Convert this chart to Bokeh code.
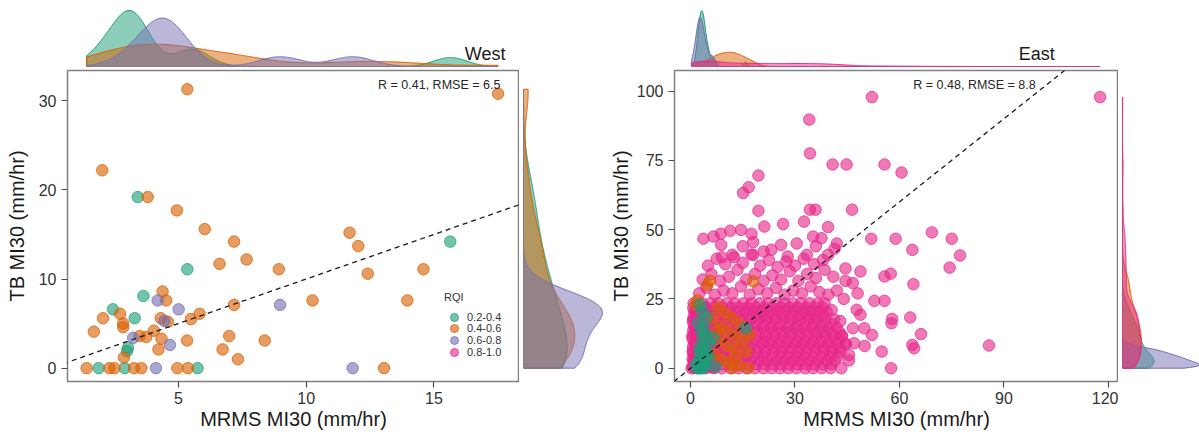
import numpy as np
from bokeh.plotting import figure
from bokeh.layouts import row, column
from bokeh.models import Range1d, FixedTicker, Label, Slope, Legend, LegendItem
from bokeh.embed import file_html
from bokeh.resources import INLINE

FONT = "Liberation Sans"
rqi_classes = ["0.2-0.4", "0.4-0.6", "0.6-0.8", "0.8-1.0"]
rqi_colors = ["#1B9E77", "#D95F02", "#7570B3", "#E7298A"]
COLOR = dict(zip(rqi_classes, rqi_colors))

# ---------------- West ----------------
west_green_x = [3.41, 15.64, 5.35, 3.63, 2.44, 3.29, 3.03, 2.99, 1.88, 2.90, 5.75]
west_green_y = [19.2, 14.2, 11.1, 8.1, 6.6, 5.6, 2.3, 1.9, 0.0, 0.0, 0.0]
west_orange_x = [5.35, 17.51, 2.02, 3.80, 4.94, 6.03, 11.70, 12.04, 7.18, 6.61, 7.67, 8.93,
                 14.59, 12.41, 4.38, 4.52, 10.25, 13.96, 7.18, 2.72, 2.05, 2.84, 2.84, 4.31,
                 4.59, 5.49, 5.83, 1.69, 3.74, 4.04, 3.48, 4.34, 5.34, 6.99, 8.38, 4.22,
                 6.73, 7.33, 2.87, 1.41, 2.30, 2.50, 3.26, 3.55, 4.96, 5.37, 13.05]
west_orange_y = [31.3, 30.8, 22.2, 19.2, 17.7, 15.6, 15.2, 13.7, 14.2, 11.7, 12.2, 11.1,
                 11.1, 10.6, 8.6, 7.6, 7.6, 7.6, 7.1, 6.1, 5.6, 5.0, 4.6, 5.6,
                 5.2, 5.5, 6.1, 4.1, 3.5, 4.2, 3.6, 3.3, 3.1, 3.6, 3.1, 2.1,
                 2.1, 1.0, 1.2, 0.0, 0.0, 0.0, 0.0, 0.0, 0.0, 0.0, 0.0]
west_purple_x = [4.19, 8.98, 5.01, 3.23, 4.67, 4.12, 11.82, 4.45]
west_purple_y = [7.6, 7.1, 6.6, 3.4, 2.6, 0.0, 0.0, 5.3]
west_pink_x = []
west_pink_y = []

# ---------------- East ----------------
east_green_x = [2.0, 2.6, 3.1, 3.7, 4.2, 2.3, 2.9, 3.4, 4.0, 4.8, 2.5, 3.2, 3.9, 5.5, 2.8,
                3.5, 4.4, 6.5, 3.0, 3.8, 2.2, 4.6, 3.3, 2.7, 15.8, 1.6, 3.6, 5.2, 7.2]
east_green_y = [0.0, 0.0, 0.0, 0.0, 1.0, 2.5, 3.0, 2.0, 4.0, 5.0, 6.0, 5.5, 8.0, 9.0, 8.0,
                11.0, 12.0, 11.0, 13.5, 15.0, 16.5, 18.5, 20.5, 23.0, 14.4, 1.2, 1.8, 3.8, 0.5]
east_orange_x = [5.6, 4.8, 18.0, 1.5, 8.0, 10.0, 12.0, 14.0, 9.0, 11.0, 13.0, 15.0, 8.5, 10.5,
                 12.5, 16.0, 7.0, 9.0, 11.0, 14.0, 16.5, 13.0, 17.0, 6.5, 2.0, 7.5, 12.0]
east_orange_y = [31.6, 30.0, 31.3, 22.9, 22.0, 20.0, 18.0, 16.0, 15.0, 13.0, 11.5, 10.0, 10.0, 8.0,
                 7.0, 6.0, 5.0, 3.0, 2.0, 1.0, 0.0, 4.0, 12.0, 18.0, 24.5, 13.5, 0.0]
east_purple_x = [1.0, 1.8, 2.4, 2.8, 3.2, 3.7, 4.3, 5.1, 6.4, 2.6, 3.5, 2.0]
east_purple_y = [0.0, 1.5, 0.5, 3.0, 4.0, 2.0, 6.0, 7.0, 0.2, 5.0, 3.5, 1.0]

# dense band of 0.8-1.0 observations: one list of MRMS values per TB level
east_pink_band_y = [0.0, 1.4, 2.8, 4.3, 5.9, 7.3, 8.7, 10.1, 11.6, 13.0, 14.5, 16.0,
                    17.6, 19.0, 20.4, 21.9, 23.4]
east_pink_band_x = [
    [0.3, 2.1, 4.4, 6.8, 9.0, 11.5, 13.8, 16.2, 18.5, 21.0, 23.3, 25.7, 28.0, 30.4, 32.9, 35.1, 37.6, 40.2],
    [2.2, 4.6, 7.0, 9.3, 11.7, 14.1, 16.5, 18.9, 21.3, 23.6, 26.0, 28.4, 30.8, 33.2, 35.6, 38.0, 40.5],
    [1.0, 3.2, 5.6, 8.1, 10.3, 12.7, 15.0, 17.4, 19.8, 22.1, 24.6, 26.9, 29.3, 31.6, 34.0, 36.5, 39.0, 41.4],
    [1.9, 4.3, 6.7, 9.1, 11.4, 13.8, 16.2, 18.6, 21.0, 23.4, 25.8, 28.1, 30.5, 32.9, 35.3, 37.7, 40.1, 42.3],
    [0.6, 2.7, 5.0, 7.4, 9.8, 12.1, 14.4, 16.9, 19.2, 21.5, 24.0, 26.3, 28.7, 31.1, 33.4, 35.8, 38.3, 40.7, 43.0],
    [2.4, 4.8, 7.1, 9.5, 11.9, 14.3, 16.7, 19.1, 21.4, 23.8, 26.2, 28.6, 31.0, 33.3, 35.7, 38.1, 40.6, 42.9],
    [1.2, 3.6, 6.0, 8.3, 10.7, 13.0, 15.5, 17.8, 20.3, 22.6, 25.0, 27.4, 29.8, 32.1, 34.5, 36.9, 39.4, 41.8, 44.6],
    [2.0, 4.4, 6.8, 9.2, 11.6, 14.0, 16.4, 18.7, 21.1, 23.5, 25.9, 28.3, 30.7, 33.0, 35.4, 37.8, 40.2, 42.6],
    [0.5, 2.9, 5.3, 7.7, 10.0, 12.4, 14.8, 17.2, 19.6, 21.9, 24.3, 26.7, 29.1, 31.5, 33.8, 36.2, 38.6, 41.0, 43.5],
    [2.3, 4.7, 7.1, 9.4, 11.8, 14.2, 16.6, 19.0, 21.4, 23.7, 26.1, 28.5, 30.9, 33.3, 35.6, 38.0, 40.4, 42.8],
    [1.4, 3.8, 6.2, 8.6, 11.0, 13.3, 15.7, 18.1, 20.5, 22.9, 25.2, 27.6, 30.0, 32.4, 34.8, 37.1, 39.5, 42.0],
    [2.1, 4.5, 6.9, 9.3, 11.7, 14.1, 16.5, 18.8, 21.2, 23.6, 26.0, 28.4, 30.8, 33.1, 35.5, 37.9, 40.3],
    [0.8, 3.1, 5.5, 7.9, 10.3, 12.6, 15.0, 17.4, 19.8, 22.2, 24.5, 26.9, 29.3, 31.7, 34.1, 36.4, 38.8, 41.3],
    [2.2, 4.6, 7.0, 9.4, 11.8, 14.2, 16.5, 18.9, 21.3, 23.7, 26.1, 28.5, 30.8, 33.2, 35.6, 38.0],
    [1.1, 3.5, 5.9, 8.2, 10.6, 13.0, 15.4, 17.7, 20.1, 22.5, 24.9, 27.2, 29.6, 32.0, 34.4, 36.8, 39.1],
    [2.0, 4.4, 6.8, 9.2, 11.6, 14.0, 16.4, 18.8, 21.2, 23.5, 25.9, 28.3, 30.7, 33.1, 35.5, 37.9],
    [0.9, 3.3, 5.7, 8.0, 10.4, 12.8, 15.2, 17.5, 19.9, 22.3, 24.7, 27.0, 29.4, 31.8, 34.2, 36.6],
]
# light-rain core of 0.8-1.0 observations
east_pink_core_y = [0.6, 1.9, 3.4, 4.7, 6.3, 7.6, 9.2, 10.5, 12.1, 13.7, 15.2, 16.8, 18.3, 20.0, 21.7]
east_pink_core_x = [
    [0.7, 1.6, 2.3, 3.2, 4.0, 4.9, 5.7, 6.6],
    [0.9, 1.8, 2.6, 3.5, 4.3, 5.1, 6.0, 6.9],
    [0.6, 1.4, 2.2, 3.0, 3.9, 4.7, 5.5, 6.4],
    [1.0, 1.9, 2.7, 3.6, 4.4, 5.3, 6.1, 7.0],
    [0.8, 1.5, 2.4, 3.3, 4.1, 4.8, 5.8, 6.7],
    [0.7, 1.7, 2.5, 3.4, 4.2, 5.0, 5.9, 6.8],
    [1.1, 1.8, 2.8, 3.5, 4.5, 5.2, 6.2, 7.1],
    [0.6, 1.5, 2.3, 3.1, 4.0, 4.8, 5.6, 6.5],
    [0.9, 1.7, 2.6, 3.4, 4.3, 5.1, 6.0],
    [0.8, 1.6, 2.5, 3.3, 4.2, 5.0, 5.9],
    [1.0, 1.9, 2.7, 3.6, 4.4, 5.4, 6.3],
    [0.7, 1.6, 2.4, 3.2, 4.1, 4.9],
    [0.9, 1.8, 2.6, 3.5, 4.3, 5.2],
    [1.2, 2.0, 2.9, 3.7, 4.6],
    [0.8, 1.7, 2.5, 3.4, 4.2],
]
# individual 0.8-1.0 observations outside the dense band
east_pink_other_x = [2.5, 4.5, 7.0, 9.5, 12.0, 14.5, 17.0, 19.5, 22.0, 24.5, 27.0, 29.5, 32.0, 34.5, 37.0, 39.5, 42.0,
                     3.5, 6.0, 8.5, 11.0, 13.5, 16.0, 18.5, 21.0, 23.5, 26.0, 28.5, 31.0, 33.5, 36.0, 38.5, 41.0, 44.5,
                     5.0, 7.5, 10.0, 12.5, 15.0, 17.5, 20.0, 22.5, 25.0, 27.5, 30.0, 32.5, 35.5, 38.0, 41.4, 44.5,
                     9.0, 12.0, 18.0, 21.0, 23.2, 27.9, 33.4, 39.5, 8.8, 15.0, 18.0, 26.0, 30.5, 36.0,
                     3.7, 6.6, 8.7, 11.4, 14.5, 17.5, 21.2, 26.6, 32.6, 39.5, 35.2, 37.6,
                     19.5, 34.3, 35.9, 46.4, 15.1, 16.7, 19.5, 40.8, 44.8, 55.7, 60.6, 34.3, 34.1, 52.1, 117.6,
                     51.9, 58.9, 63.7, 69.3, 75.0, 77.4, 74.4, 48.8, 55.7, 57.5, 64.0, 46.6, 52.8, 55.7, 63.1,
                     66.2, 57.9, 57.7, 63.7, 64.2, 85.7, 57.6, 54.9, 52.1, 49.9, 46.6, 48.8, 47.7, 43.3, 45.5,
                     47.0, 50.0, 44.0, 48.0, 42.0, 45.5, 44.6, 43.5, 43.0, 40.5, 38.5]
east_pink_other_y = [27.0, 29.0, 26.5, 28.0, 27.0, 29.5, 26.5, 28.5, 27.0, 29.0, 26.5, 28.0, 27.0, 29.5, 27.5, 26.5, 28.0,
                     32.0, 34.0, 31.5, 33.0, 35.5, 32.0, 34.0, 31.5, 33.5, 32.0, 35.0, 31.5, 34.0, 32.5, 35.5, 33.0, 31.5,
                     37.0, 39.5, 37.5, 40.0, 38.0, 41.0, 37.0, 39.0, 36.5, 38.5, 37.0, 39.5, 37.5, 39.0, 43.1, 36.0,
                     40.0, 40.9, 40.9, 42.1, 42.7, 40.3, 40.9, 40.9, 44.5, 44.0, 45.5, 44.5, 45.0, 44.0,
                     46.7, 47.5, 48.5, 49.6, 49.9, 48.5, 51.1, 52.0, 52.9, 50.9, 47.5, 46.9,
                     56.8, 57.2, 57.2, 57.2, 63.2, 65.3, 69.5, 73.5, 73.5, 73.5, 70.6, 77.5, 89.7, 97.8, 97.8,
                     46.7, 46.7, 42.7, 49.0, 46.7, 40.7, 36.3, 34.9, 33.1, 34.1, 30.3, 30.7, 24.3, 24.3, 18.3,
                     12.3, 17.8, 16.2, 8.4, 7.2, 8.2, 0.0, 6.0, 12.0, 14.4, 14.4, 19.3, 21.1, 0.0, 4.8,
                     9.0, 8.0, 25.0, 27.0, 45.0, 2.8, 8.7, 11.6, 17.0, 21.0, 23.4]

east_pink_x = [x for row_x in east_pink_band_x for x in row_x] \
    + [x for row_x in east_pink_core_x for x in row_x] + east_pink_other_x
east_pink_y = [y for y, row_x in zip(east_pink_band_y, east_pink_band_x) for _ in row_x] \
    + [y for y, row_x in zip(east_pink_core_y, east_pink_core_x) for _ in row_x] + east_pink_other_y

west_groups = {"0.2-0.4": (west_green_x, west_green_y), "0.4-0.6": (west_orange_x, west_orange_y),
               "0.6-0.8": (west_purple_x, west_purple_y), "0.8-1.0": (west_pink_x, west_pink_y)}
east_groups = {"0.2-0.4": (east_green_x, east_green_y), "0.4-0.6": (east_orange_x, east_orange_y),
               "0.6-0.8": (east_purple_x, east_purple_y), "0.8-1.0": (east_pink_x, east_pink_y)}

TOP_H = 68
MAIN_H = 366
B_TOP = 2
B_BOTTOM = 53


def bw_nrd0(v):
    v = np.asarray(v, float)
    sd = v.std(ddof=1)
    q75, q25 = np.percentile(v, [75, 25])
    lo = min(sd, (q75 - q25) / 1.34)
    if lo <= 0:
        lo = sd if sd > 0 else 1.0
    return 0.9 * lo * len(v) ** -0.2


def density(v, lo, hi, n=400):
    """Gaussian kernel density evaluated across the panel's full data range."""
    v = np.asarray(v, float)
    bw = bw_nrd0(v)
    grid = np.linspace(lo, hi, n)
    d = np.exp(-0.5 * ((grid[:, None] - v[None, :]) / bw) ** 2).sum(axis=1)
    d /= len(v) * bw * np.sqrt(2 * np.pi)
    return grid, d


def style_axes(p, xticks, yticks, ytitle_standoff):
    p.xaxis.ticker = FixedTicker(ticks=xticks)
    p.yaxis.ticker = FixedTicker(ticks=yticks)
    for ax in p.axis:
        ax.axis_line_color = None
        ax.major_tick_line_color = "#4d4d4d"
        ax.major_tick_line_width = 1.2
        ax.major_tick_out = 6
        ax.major_tick_in = 0
        ax.minor_tick_line_color = None
        ax.major_label_text_font = FONT
        ax.major_label_text_font_size = "16px"
        ax.major_label_text_color = "#333333"
        ax.axis_label_text_font = FONT
        ax.axis_label_text_font_size = "20px"
        ax.axis_label_text_font_style = "normal"
        ax.axis_label_text_color = "#1a1a1a"
    p.xaxis.major_label_standoff = 4
    p.xaxis.axis_label_standoff = 1
    p.yaxis.major_label_standoff = 5
    p.yaxis.axis_label_standoff = ytitle_standoff
    p.xaxis.axis_label = "MRMS MI30 (mm/hr)"
    p.yaxis.axis_label = "TB MI30 (mm/hr)"


def build_panel(groups, draw_order, x_rng, y_rng, xticks, yticks, border_left, frame_w,
                ytitle_standoff, marg_w, marg_fill, region, region_x, stat_text, stat_xy,
                with_legend):
    xr = Range1d(*x_rng)
    yr = Range1d(*y_rng)

    main = figure(width=border_left + frame_w, height=MAIN_H, x_range=xr, y_range=yr,
                  min_border_left=border_left, min_border_right=0,
                  min_border_top=B_TOP, min_border_bottom=B_BOTTOM,
                  toolbar_location=None, output_backend="svg",
                  outline_line_color="#808080", outline_line_width=1.5)
    main.grid.visible = False
    style_axes(main, xticks, yticks, ytitle_standoff)

    rends = {}
    for cls in draw_order:
        gx, gy = groups[cls]
        if len(gx) == 0:
            # class without observations: keeps a legend swatch only
            gx, gy = [np.nan], [np.nan]
        c = COLOR[cls]
        rends[cls] = main.scatter(x=gx, y=gy, size=11.5, fill_color=c, fill_alpha=0.62,
                                  line_color=c, line_alpha=0.75, line_width=1)
    main.add_layout(Slope(gradient=1, y_intercept=0, line_color="#1a1a1a",
                          line_dash="5 4", line_width=1.3))
    main.add_layout(Label(x=stat_xy[0], y=stat_xy[1], text=stat_text, text_align="right",
                          text_baseline="middle", text_font=FONT, text_font_size="12.5px",
                          text_color="#262626"))
    if with_legend:
        # one entry per legend box, stacked with a 11.7 px pitch
        item_centers = [64.3, 52.6, 40.9, 29.2]
        for i, cls in enumerate(rqi_classes):
            lg = Legend(items=[LegendItem(label=cls, renderers=[rends[cls]])],
                        location=(377, item_centers[i] - 10), orientation="vertical",
                        glyph_width=20, glyph_height=20, label_height=20,
                        label_standoff=3, padding=0, margin=0,
                        border_line_color=None, background_fill_alpha=0,
                        label_text_font=FONT, label_text_font_size="11px",
                        label_text_color="#333333")
            if i == 0:
                lg.title = "RQI"
                lg.title_standoff = 4
                lg.title_text_font = FONT
                lg.title_text_font_size = "11px"
                lg.title_text_font_style = "normal"
                lg.title_text_color = "#333333"
            main.add_layout(lg)

    # marginal density of MRMS values above the panel
    top = figure(width=border_left + frame_w, height=TOP_H, x_range=xr, y_range=Range1d(0, 1),
                 min_border_left=border_left, min_border_right=0, min_border_top=0,
                 min_border_bottom=2, x_axis_type=None, y_axis_type=None,
                 toolbar_location=None, output_backend="svg", outline_line_color=None)
    # marginal density of TB values to the right of the panel
    side = figure(width=marg_w, height=MAIN_H, x_range=Range1d(0, 1), y_range=yr,
                  min_border_left=4, min_border_right=0, min_border_top=B_TOP,
                  min_border_bottom=B_BOTTOM, x_axis_type=None, y_axis_type=None,
                  toolbar_location=None, output_backend="svg", outline_line_color=None)

    all_x = np.concatenate([np.asarray(groups[c][0], float) for c in rqi_classes])
    all_y = np.concatenate([np.asarray(groups[c][1], float) for c in rqi_classes])
    top_max, side_max = 0.0, 0.0
    for cls in rqi_classes:
        gx, gy = groups[cls]
        if len(gx) < 2:
            continue
        c = COLOR[cls]
        g, d = density(gx, all_x.min(), all_x.max())
        top.patch(np.r_[g[0], g, g[-1]], np.r_[0, d, 0], fill_color=c, fill_alpha=0.5,
                  line_color=c, line_width=1)
        top_max = max(top_max, d.max())
        g, d = density(gy, all_y.min(), all_y.max())
        side.patch(np.r_[0, d, 0], np.r_[g[0], g, g[-1]], fill_color=c, fill_alpha=0.5,
                   line_color=c, line_width=1)
        side_max = max(side_max, d.max())
    top.y_range.end = top_max * 66 / 56
    side.x_range.end = side_max * marg_fill
    top.add_layout(Label(x=region_x, y=top.y_range.end * 13 / 66, text=region,
                         text_align="right", text_baseline="middle", text_font=FONT,
                         text_font_size="18px", text_color="#1a1a1a"))

    return column(top, row(main, side))


west = build_panel(west_groups, ["0.2-0.4", "0.4-0.6", "0.6-0.8", "0.8-1.0"],
                   (0.66, 18.35), (-1.5, 33.4), [5, 10, 15], [0, 10, 20, 30],
                   67, 452, 8, 86, 82 / 79, "West", 17.8,
                   "R = 0.41, RMSE = 6.5", (17.6, 31.8), True)
east = build_panel(east_groups, ["0.6-0.8", "0.8-1.0", "0.4-0.6", "0.2-0.4"],
                   (-4.6, 122.9), (-4.8, 107.4), [0, 30, 60, 90, 120], [0, 25, 50, 75, 100],
                   69, 444, 2, 81, 1.0, "East", 104.6,
                   "R = 0.48, RMSE = 8.8", (99.1, 102.3), False)

p = row(west, east)
open("out.html", "w").write(file_html(p, INLINE))
